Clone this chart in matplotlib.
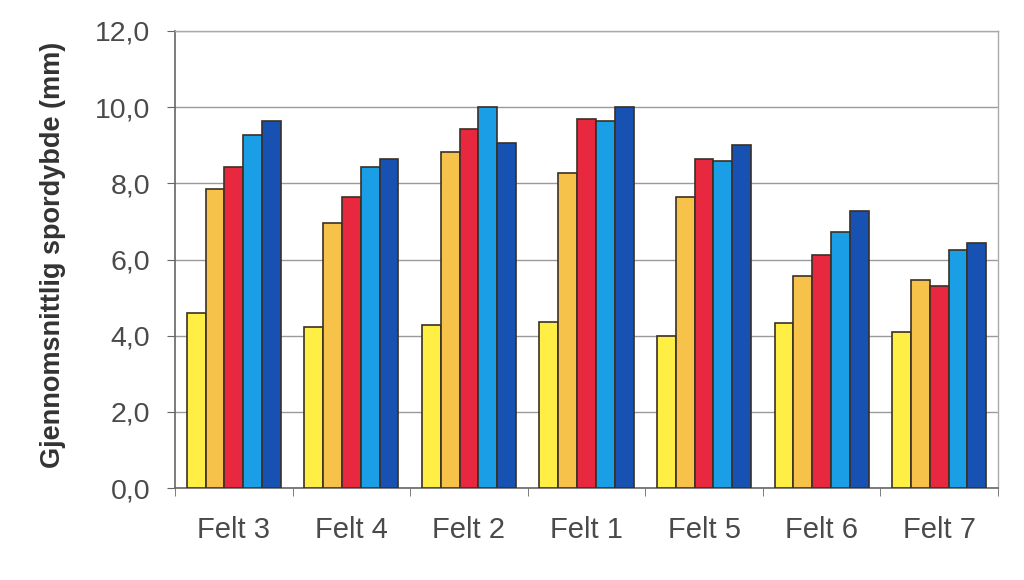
import matplotlib
matplotlib.use("Agg")
import matplotlib.pyplot as plt
import numpy as np

categories = ["Felt 3", "Felt 4", "Felt 2", "Felt 1", "Felt 5", "Felt 6", "Felt 7"]
s1 = [4.60, 4.23, 4.29, 4.35, 4.00, 4.33, 4.09]
s2 = [7.85, 6.96, 8.81, 8.26, 7.65, 5.57, 5.47]
s3 = [8.43, 7.65, 9.42, 9.68, 8.63, 6.11, 5.31]
s4 = [9.27, 8.42, 10.01, 9.63, 8.59, 6.72, 6.24]
s5 = [9.63, 8.64, 9.06, 10.01, 9.00, 7.28, 6.44]
series = [s1, s2, s3, s4, s5]
colors = ["#FFEE44", "#F6C24A", "#E8283E", "#1A9EE6", "#1752B2"]
yticks = [0, 2, 4, 6, 8, 10, 12]
ylabel = "Gjennomsnittlig spordybde (mm)"

plt.rcParams['font.family'] = ['Liberation Sans', 'DejaVu Sans']
fig = plt.figure(figsize=(10.24, 5.8), dpi=100)
ax = fig.add_axes([175/1024, 92/580, 823/1024, 457/580])

x = np.arange(len(categories))
n = len(series)
w = 0.8 / n
for i, (vals, c) in enumerate(zip(series, colors)):
    ax.bar(x - 0.4 + w * (i + 0.5), vals, width=w, color=c,
           edgecolor="#3a3025", linewidth=1.2, zorder=3)

ax.set_xlim(-0.5, len(categories) - 0.5)
ax.set_ylim(0, 12)
ax.set_yticks(yticks)
ax.set_yticklabels([f"{v:.1f}".replace(".", ",") for v in yticks],
                   fontsize=20.5, color="#4a4a4a")
ax.set_xticks(x)
ax.set_xticklabels(categories, fontsize=21, color="#4a4a4a")
ax.set_xticks(np.arange(-0.5, len(categories), 1), minor=True)
ax.tick_params(axis='x', which='major', length=0, pad=20)
ax.tick_params(axis='x', which='minor', length=6, color="#666666", direction='out')
ax.tick_params(axis='y', which='major', length=6, color="#666666", direction='out', pad=12)

ax.yaxis.grid(True, color="#9a9a9a", linewidth=1.0, zorder=0)
ax.set_axisbelow(True)
for side in ["top", "right"]:
    ax.spines[side].set_color("#aaaaaa")
    ax.spines[side].set_linewidth(1.0)
for side in ["left", "bottom"]:
    ax.spines[side].set_color("#666666")
    ax.spines[side].set_linewidth(1.2)

ax.set_ylabel(ylabel, fontsize=19.5, fontweight="bold", color="#333333")
ax.yaxis.set_label_coords(-0.1324, 0.51)

fig.savefig("out.png", dpi=100)
